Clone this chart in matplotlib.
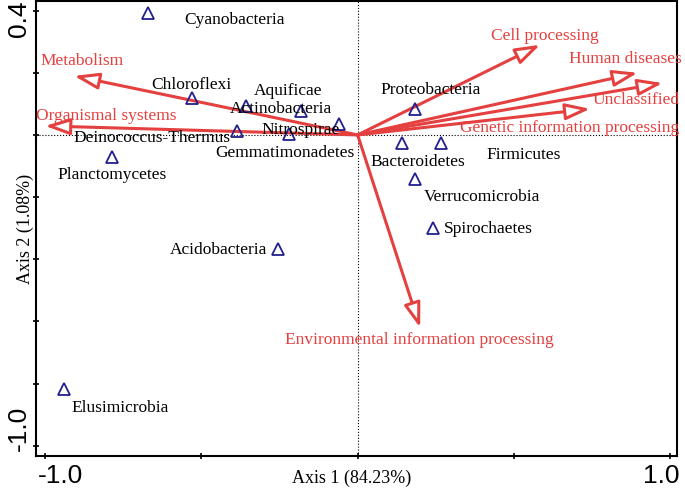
"""RDA 双序图：菌门得分 + 功能类别箭头"""

import matplotlib.pyplot as plt
from matplotlib.transforms import ScaledTranslation

plt.rcParams['font.family'] = ['Liberation Serif', 'DejaVu Serif']

# ========== 数据 ==========
phyla = ['Cyanobacteria', 'Chloroflexi', 'Aquificae', 'Actinobacteria', 'Nitrospirae',
         'Deinococcus-Thermus', 'Gemmatimonadetes', 'Planctomycetes', 'Acidobacteria',
         'Elusimicrobia', 'Proteobacteria', 'Bacteroidetes', 'Firmicutes',
         'Verrucomicrobia', 'Spirochaetes']
phyla_ax1 = [-0.670, -0.530, -0.357, -0.181, -0.059, -0.385, -0.219, -0.786, -0.254,
             -0.939, 0.184, 0.142, 0.267, 0.184, 0.240]
phyla_ax2 = [0.392, 0.119, 0.094, 0.077, 0.036, 0.013, 0.004, -0.070, -0.367,
             -0.817, 0.084, -0.025, -0.025, -0.141, -0.298]

functions = ['Metabolism', 'Organismal systems', 'Cell processing', 'Human diseases',
             'Unclassified', 'Genetic information processing',
             'Environmental information processing']
func_ax1 = [-0.907, -1.000, 0.584, 0.896, 0.976, 0.744, 0.200]
func_ax2 = [0.190, 0.029, 0.290, 0.200, 0.167, 0.084, -0.620]

# 标签位置（排版用）
phyla_lab = [(-0.395, 0.369), (-0.531, 0.162), (-0.222, 0.141), (-0.245, 0.083),
             (-0.181, 0.015), (-0.658, -0.010), (-0.232, -0.059), (-0.786, -0.129),
             (-0.446, -0.371), (-0.760, -0.879), (0.232, 0.144), (0.194, -0.088),
             (0.530, -0.065), (0.397, -0.200), (0.418, -0.303)]
func_lab = [(-0.883, 0.237), (-0.805, 0.060), (0.600, 0.317), (0.858, 0.243),
            (0.891, 0.112), (0.677, 0.022), (0.197, -0.660)]

red = '#E4403F'
navy = '#22208C'

fig = plt.figure(figsize=(6.85, 4.91), dpi=100)
ax = fig.add_axes([0.0526, 0.0713, 0.9358, 0.9267])
ax.set_xlim(-1.029, 1.022)
ax.set_ylim(-1.033, 0.431)

ax.axhline(0, color='black', ls=':', lw=0.8, zorder=1)
ax.axvline(0, color='black', ls=':', lw=0.8, zorder=1)

# 功能箭头
for name, x, y, (lx, ly) in zip(functions, func_ax1, func_ax2, func_lab):
    ax.annotate('', xy=(x, y), xytext=(0, 0),
                arrowprops=dict(arrowstyle='-|>,head_length=1.5,head_width=0.5',
                                mutation_scale=10, lw=2.2, ec=red, fc='white',
                                shrinkA=0, shrinkB=0), zorder=3)
    ax.text(lx, ly, name, color=red, fontsize=12.5, ha='center', va='center', zorder=4)

# 菌门得分
ax.plot(phyla_ax1, phyla_ax2, ls='none', marker='^', ms=8.5, mfc='none',
        mec=navy, mew=1.3, zorder=5)
for name, (lx, ly) in zip(phyla, phyla_lab):
    ax.text(lx, ly, name, color='black', fontsize=12.5, ha='center', va='center', zorder=6)

# 坐标轴样式
for s in ax.spines.values():
    s.set_linewidth(1.5)
ax.set_xticks([-1.0, -0.5, 0, 0.5, 1.0], ['-1.0', '', '', '', '1.0'])
ax.set_yticks([0.4, 0.2, 0, -0.2, -0.4, -0.6, -0.8, -1.0],
              ['0.4', '', '', '', '', '', '', '-1.0'])
ax.tick_params(direction='inout', length=5, width=1.2, labelsize=19)
ax.tick_params(axis='x', pad=3)
ax.tick_params(axis='y', pad=1)

for lab in ax.get_xticklabels() + ax.get_yticklabels():
    lab.set_fontfamily('Liberation Sans')
xl = ax.get_xticklabels()
xl[0].set_transform(xl[0].get_transform() + ScaledTranslation(0.15, 0, fig.dpi_scale_trans))
xl[-1].set_transform(xl[-1].get_transform() + ScaledTranslation(-0.085, 0, fig.dpi_scale_trans))
yl = ax.get_yticklabels()
for lab in yl:
    lab.set_rotation(90)
    lab.set_va('center')
yl[0].set_transform(yl[0].get_transform() + ScaledTranslation(0, -0.08, fig.dpi_scale_trans))
yl[-1].set_transform(yl[-1].get_transform() + ScaledTranslation(0, 0.17, fig.dpi_scale_trans))

ax.set_xlabel('Axis 1 (84.23%)', fontsize=13)
ax.set_ylabel('Axis 2 (1.08%)', fontsize=13)
ax.xaxis.set_label_coords(0.493, -0.031)
ax.yaxis.set_label_coords(-0.003, 0.5)

fig.savefig('out.png', dpi=100)
